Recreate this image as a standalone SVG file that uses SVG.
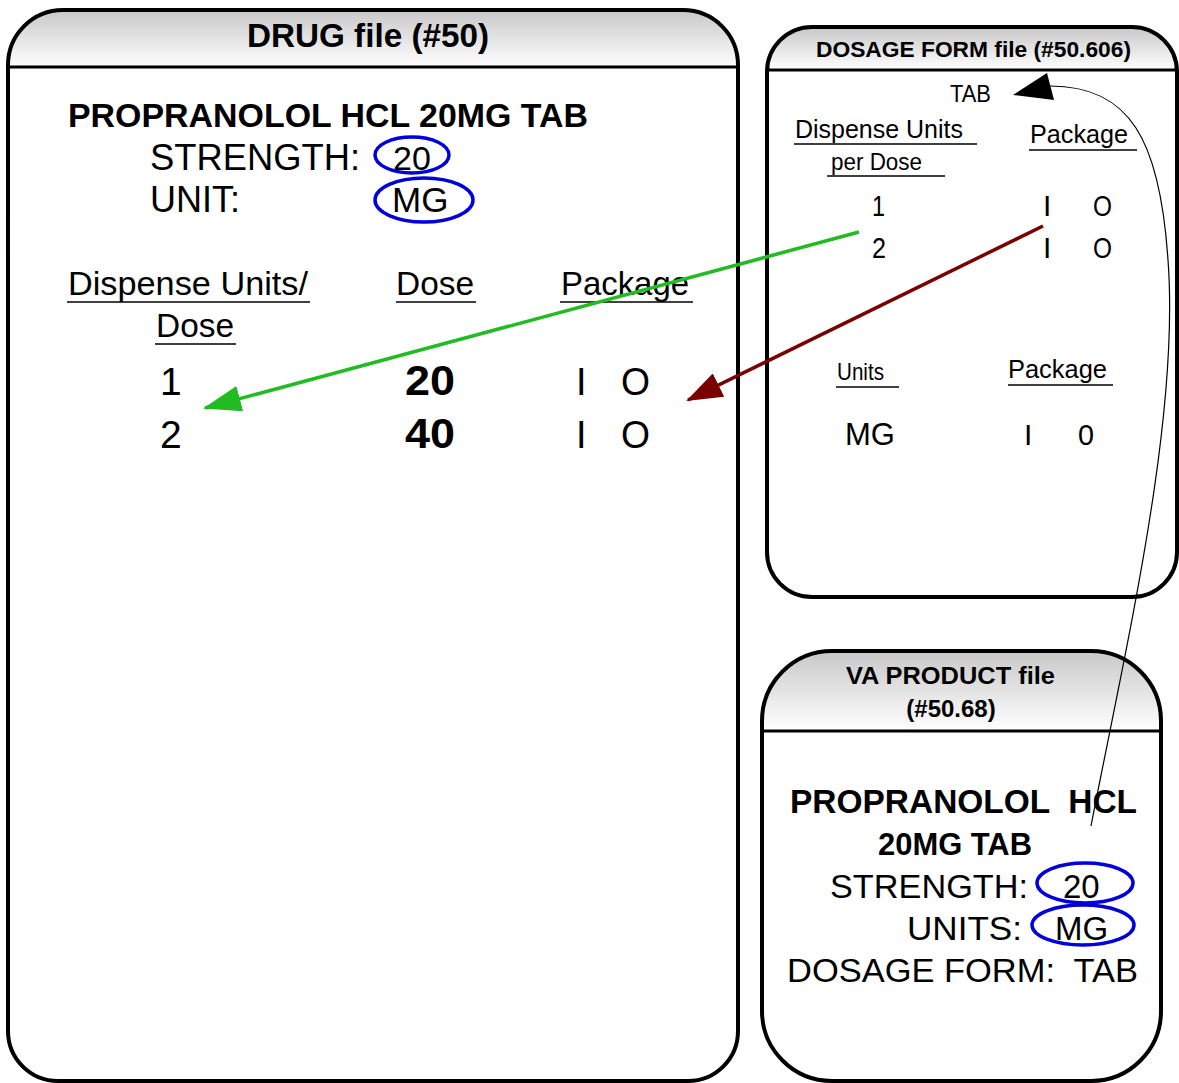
<svg xmlns="http://www.w3.org/2000/svg" width="1179" height="1083" viewBox="0 0 1179 1083">
<style>
.box{fill:none;stroke:#000;stroke-width:4}
.bg{fill:#fff}
.sep{stroke:#000;stroke-width:3}
.hdr{fill:url(#hg)}
text{font-family:"Liberation Sans",Arial,sans-serif;fill:#000;white-space:pre}
.b{font-weight:bold}
.ul{stroke:#000;stroke-width:1.5}
.ring{fill:none;stroke:#0000dd;stroke-width:3.5}
</style>
<defs>
<linearGradient id="hg" x1="0" y1="0" x2="0" y2="1">
<stop offset="0" stop-color="#c8c8c8"/>
<stop offset="1" stop-color="#ffffff"/>
</linearGradient>
<marker id="ag" viewBox="0 0 38 26" refX="36" refY="13" markerWidth="38" markerHeight="26" markerUnits="userSpaceOnUse" orient="auto">
<path d="M0,0 L38,13 L0,26 z" fill="#22bb22"/>
</marker>
<marker id="ar" viewBox="0 0 36 26" refX="34" refY="13" markerWidth="36" markerHeight="26" markerUnits="userSpaceOnUse" orient="auto">
<path d="M0,0 L36,13 L0,26 z" fill="#7a0000"/>
</marker>
</defs>
<rect width="1179" height="1083" fill="#fff"/>

<g id="drug">
<path class="bg" d="M8,65 A55,55 0 0 1 63,10 H683 A55,55 0 0 1 738,65 V1031 A50,50 0 0 1 688,1081 H58 A50,50 0 0 1 8,1031 Z"/>
<path class="hdr" d="M8,67 V65 A55,55 0 0 1 63,10 H683 A55,55 0 0 1 738,65 V67 Z"/>
<line class="sep" x1="8" y1="67" x2="738" y2="67"/>
<path class="box" d="M8,65 A55,55 0 0 1 63,10 H683 A55,55 0 0 1 738,65 V1031 A50,50 0 0 1 688,1081 H58 A50,50 0 0 1 8,1031 Z"/>
<text class="b" x="247" y="47" font-size="33" textLength="242" lengthAdjust="spacingAndGlyphs">DRUG file (#50)</text>
<text class="b" x="68" y="127" font-size="33" textLength="520" lengthAdjust="spacingAndGlyphs">PROPRANOLOL HCL 20MG TAB</text>
<text x="150" y="170" font-size="36" textLength="210" lengthAdjust="spacingAndGlyphs">STRENGTH:</text>
<text x="393" y="170" font-size="34">20</text>
<ellipse class="ring" cx="412" cy="155" rx="37" ry="18"/>
<text x="150" y="212" font-size="36">UNIT:</text>
<text x="392" y="212" font-size="35">MG</text>
<ellipse class="ring" cx="424" cy="200" rx="49" ry="22"/>
<text x="68" y="295" font-size="33" textLength="240" lengthAdjust="spacingAndGlyphs">Dispense Units/</text>
<line class="ul" x1="67" y1="302" x2="310" y2="302"/>
<text x="156" y="337" font-size="33" textLength="78" lengthAdjust="spacingAndGlyphs">Dose</text>
<line class="ul" x1="155" y1="344" x2="236" y2="344"/>
<text x="396" y="295" font-size="33" textLength="78" lengthAdjust="spacingAndGlyphs">Dose</text>
<line class="ul" x1="396" y1="302" x2="476" y2="302"/>
<text x="561" y="295" font-size="33" textLength="128" lengthAdjust="spacingAndGlyphs">Package</text>
<line class="ul" x1="560" y1="302" x2="693" y2="302"/>
<text x="160" y="395" font-size="39">1</text>
<text x="160" y="448" font-size="39">2</text>
<text class="b" x="405" y="395" font-size="42" textLength="50" lengthAdjust="spacingAndGlyphs">20</text>
<text class="b" x="405" y="448" font-size="42" textLength="50" lengthAdjust="spacingAndGlyphs">40</text>
<text x="576" y="395" font-size="38">I</text>
<text x="621" y="395" font-size="38" textLength="29" lengthAdjust="spacingAndGlyphs">O</text>
<text x="576" y="448" font-size="38">I</text>
<text x="621" y="448" font-size="38" textLength="29" lengthAdjust="spacingAndGlyphs">O</text>
</g>

<g id="dosage-form">
<path class="bg" d="M767,72 A45,45 0 0 1 812,27 H1132 A45,45 0 0 1 1177,72 V552 A45,45 0 0 1 1132,597 H812 A45,45 0 0 1 767,552 Z"/>
<path class="hdr" d="M767,70 A45,45 0 0 1 812,27 H1132 A45,45 0 0 1 1177,70 Z"/>
<line class="sep" x1="767" y1="70" x2="1177" y2="70"/>
<path class="box" d="M767,72 A45,45 0 0 1 812,27 H1132 A45,45 0 0 1 1177,72 V552 A45,45 0 0 1 1132,597 H812 A45,45 0 0 1 767,552 Z"/>
<text class="b" x="816" y="57" font-size="22" textLength="315" lengthAdjust="spacingAndGlyphs">DOSAGE FORM file (#50.606)</text>
<text x="950" y="102" font-size="24" textLength="41" lengthAdjust="spacingAndGlyphs">TAB</text>
<text x="795" y="138" font-size="26" textLength="168" lengthAdjust="spacingAndGlyphs">Dispense Units</text>
<line class="ul" x1="794" y1="144" x2="977" y2="144"/>
<text x="831" y="170" font-size="24" textLength="91" lengthAdjust="spacingAndGlyphs">per Dose</text>
<line class="ul" x1="827" y1="176" x2="945" y2="176"/>
<text x="1030" y="143" font-size="26" textLength="98" lengthAdjust="spacingAndGlyphs">Package</text>
<line class="ul" x1="1029" y1="150" x2="1137" y2="150"/>
<text x="872" y="216" font-size="30" textLength="13" lengthAdjust="spacingAndGlyphs">1</text>
<text x="872" y="258" font-size="30" textLength="14" lengthAdjust="spacingAndGlyphs">2</text>
<text x="1043" y="216" font-size="30">I</text>
<text x="1093" y="216" font-size="30" textLength="19" lengthAdjust="spacingAndGlyphs">O</text>
<text x="1043" y="258" font-size="30">I</text>
<text x="1093" y="258" font-size="30" textLength="19" lengthAdjust="spacingAndGlyphs">O</text>
<text x="837" y="380" font-size="24" textLength="47" lengthAdjust="spacingAndGlyphs">Units</text>
<line class="ul" x1="836" y1="387" x2="899" y2="387"/>
<text x="1008" y="378" font-size="26" textLength="99" lengthAdjust="spacingAndGlyphs">Package</text>
<line class="ul" x1="1008" y1="385" x2="1113" y2="385"/>
<text x="845" y="445" font-size="31">MG</text>
<text x="1024" y="445" font-size="30">I</text>
<text x="1078" y="445" font-size="30" textLength="16" lengthAdjust="spacingAndGlyphs">0</text>
</g>

<g id="va-product">
<path class="bg" d="M762,721 A70,70 0 0 1 832,651 H1091 A70,70 0 0 1 1161,721 V1011 A70,70 0 0 1 1091,1081 H832 A70,70 0 0 1 762,1011 Z"/>
<path class="hdr" d="M762,731 V721 A70,70 0 0 1 832,651 H1091 A70,70 0 0 1 1161,721 V731 Z"/>
<line class="sep" x1="762" y1="731" x2="1161" y2="731"/>
<path class="box" d="M762,721 A70,70 0 0 1 832,651 H1091 A70,70 0 0 1 1161,721 V1011 A70,70 0 0 1 1091,1081 H832 A70,70 0 0 1 762,1011 Z"/>
<text class="b" x="846" y="684" font-size="24" textLength="209" lengthAdjust="spacingAndGlyphs">VA PRODUCT file</text>
<text class="b" x="951" y="717" font-size="24" text-anchor="middle">(#50.68)</text>
<text class="b" x="790" y="813" font-size="33" textLength="347" lengthAdjust="spacingAndGlyphs" xml:space="preserve">PROPRANOLOL  HCL</text>
<text class="b" x="878" y="855" font-size="31" textLength="154" lengthAdjust="spacingAndGlyphs">20MG TAB</text>
<text x="830" y="898" font-size="34" textLength="198" lengthAdjust="spacingAndGlyphs">STRENGTH:</text>
<text x="1063" y="898" font-size="33">20</text>
<ellipse class="ring" cx="1085" cy="883" rx="48" ry="20"/>
<text x="907" y="940" font-size="34" textLength="115" lengthAdjust="spacingAndGlyphs">UNITS:</text>
<text x="1055" y="940" font-size="33">MG</text>
<ellipse class="ring" cx="1083" cy="925" rx="51" ry="20"/>
<text x="787" y="982" font-size="34" textLength="351" lengthAdjust="spacingAndGlyphs" xml:space="preserve">DOSAGE FORM:  TAB</text>
</g>

<g id="connectors">
<line x1="859" y1="232" x2="205" y2="408" stroke="#22bb22" stroke-width="3.5" marker-end="url(#ag)"/>
<line x1="1043" y1="226" x2="688" y2="400" stroke="#7a0000" stroke-width="3.5" marker-end="url(#ar)"/>
<path d="M1091,826 C1125,650 1180,420 1168,260 C1160,140 1130,86 1050,86" fill="none" stroke="#000" stroke-width="1.2"/>
<polygon points="1013,95 1047,73 1054,100" fill="#000"/>
</g>
</svg>
